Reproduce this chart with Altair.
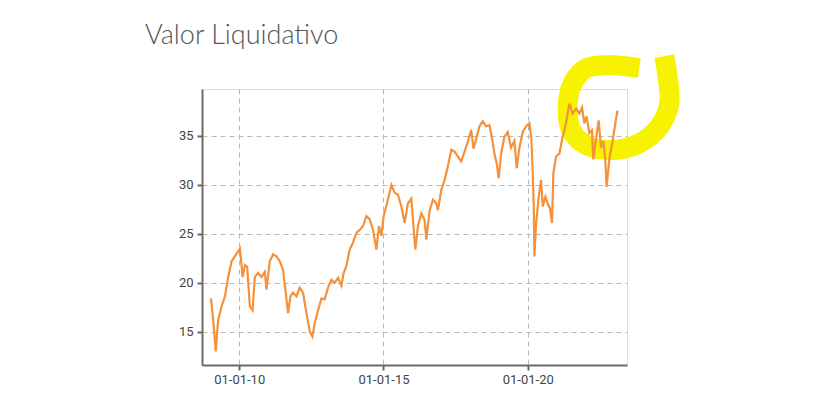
import altair as alt
import pandas as pd

# Net asset value series
dates = [
    "2009-01-08", "2009-02-06", "2009-03-10", "2009-04-09", "2009-05-23", "2009-07-04",
    "2009-08-15", "2009-09-27", "2009-11-07", "2010-01-10", "2010-02-13", "2010-03-14",
    "2010-04-12", "2010-05-16", "2010-06-19", "2010-07-18", "2010-08-28", "2010-10-10",
    "2010-11-21", "2010-12-12", "2011-01-23", "2011-03-06", "2011-04-18", "2011-05-30",
    "2011-07-10", "2011-08-13", "2011-09-11", "2011-10-11", "2011-11-13", "2011-12-26",
    "2012-02-06", "2012-03-19", "2012-05-01", "2012-06-12", "2012-07-16", "2012-08-14",
    "2012-09-25", "2012-11-07", "2012-12-18", "2013-01-29", "2013-03-13", "2013-04-24",
    "2013-06-05", "2013-07-17", "2013-08-15", "2013-09-18", "2013-10-30", "2013-12-11",
    "2014-01-23", "2014-03-06", "2014-04-17", "2014-05-30", "2014-07-10", "2014-08-21",
    "2014-10-03", "2014-11-04", "2014-12-05", "2015-01-03", "2015-02-14", "2015-04-11",
    "2015-05-22", "2015-07-03", "2015-08-15", "2015-09-26", "2015-11-06", "2015-12-19",
    "2016-02-08", "2016-03-12", "2016-04-24", "2016-06-05", "2016-06-26", "2016-08-07",
    "2016-09-18", "2016-10-31", "2016-11-20", "2017-01-02", "2017-02-13", "2017-03-26",
    "2017-05-08", "2017-06-19", "2017-07-30", "2017-09-11", "2017-10-23", "2017-12-03",
    "2018-01-15", "2018-02-13", "2018-03-19", "2018-04-30", "2018-06-10", "2018-07-23",
    "2018-09-03", "2018-10-07", "2018-11-05", "2018-12-04", "2018-12-29", "2019-01-29",
    "2019-03-11", "2019-04-22", "2019-06-04", "2019-07-16", "2019-08-14", "2019-09-17",
    "2019-10-29", "2019-12-11", "2020-01-22", "2020-02-16", "2020-03-04", "2020-03-17",
    "2020-03-25", "2020-04-16", "2020-05-19", "2020-06-18", "2020-07-08", "2020-08-11",
    "2020-09-09", "2020-10-09", "2020-11-03", "2020-11-20", "2020-12-24", "2021-02-04",
    "2021-03-17", "2021-04-29", "2021-06-10", "2021-07-22", "2021-09-03", "2021-10-15",
    "2021-11-18", "2021-12-17", "2022-01-15", "2022-02-18", "2022-03-24", "2022-04-10",
    "2022-05-14", "2022-06-16", "2022-07-16", "2022-08-14", "2022-09-08", "2022-09-25",
    "2022-10-29", "2022-12-10", "2023-01-13", "2023-02-11",
]
values = [
    18.4, 16.2, 13.0, 16.2, 17.6, 18.6,
    20.6, 22.2, 22.7, 23.5, 20.6, 21.8,
    21.6, 17.6, 17.2, 20.6, 21.0, 20.6,
    21.1, 19.3, 22.2, 22.9, 22.7, 22.2,
    21.3, 19.0, 16.9, 18.6, 19.0, 18.6,
    19.5, 19.0, 16.9, 15.0, 14.5, 15.9,
    17.2, 18.4, 18.3, 19.5, 20.3, 20.0,
    20.5, 19.7, 21.0, 21.7, 23.4, 24.1,
    25.1, 25.4, 25.8, 26.8, 26.5, 25.4,
    23.4, 25.8, 24.8, 26.8, 28.1, 30.0,
    29.2, 29.0, 27.8, 26.1, 28.1, 28.6,
    23.4, 25.8, 27.1, 26.4, 24.4, 27.4,
    28.5, 28.1, 27.4, 29.5, 30.5, 31.9,
    33.6, 33.4, 32.9, 32.4, 33.4, 34.4,
    35.6, 33.7, 34.7, 36.0, 36.5, 36.0,
    36.1, 34.7, 33.2, 32.2, 30.7, 33.2,
    34.9, 35.4, 33.8, 34.5, 31.7, 33.8,
    35.4, 36.0, 36.3, 34.7, 31.2, 27.8,
    22.7, 26.1, 28.8, 30.5, 27.8, 28.8,
    28.1, 27.6, 26.1, 31.2, 32.9, 33.2,
    34.9, 36.3, 38.3, 37.3, 37.8, 37.3,
    37.9, 36.3, 37.0, 35.3, 35.6, 32.6,
    34.7, 36.6, 33.8, 34.5, 32.6, 29.8,
    32.6, 34.5, 36.3, 37.6,
]

# Hand-drawn yellow highlight ring (in data units)
hl_dates = [
    "2023-11-13", "2022-09-18", "2022-01-08", "2021-07-23", "2021-05-21", "2021-07-03",
    "2022-01-08", "2022-12-10", "2023-11-13", "2024-07-23", "2024-11-26", "2024-11-04",
    "2024-09-24",
]
hl_values = [41.94, 42.24, 41.91, 40.38, 37.99, 35.61, 34.08, 33.57, 34.26, 35.95, 38.34, 41.05, 43.16]

y_ticks = [15, 20, 25, 30, 35]
x_ticks = ["2010-01-01", "2015-01-01", "2020-01-01"]
title_text = ["Valor Liquidativo"]

df = pd.DataFrame({"fecha": pd.to_datetime(dates), "valor": values})
hl = pd.DataFrame({"fecha": pd.to_datetime(hl_dates), "valor": hl_values, "i": range(len(hl_values))})
tt = pd.DataFrame({"t": title_text})

x_scale = alt.Scale(domain=[alt.DateTime(year=2008, month=9, date=17),
                            alt.DateTime(year=2023, month=6, date=10)], nice=False)
y_scale = alt.Scale(domain=[11.6, 39.8], nice=False, zero=False)

x_axis = alt.Axis(
    title=None, format="%d-%m-%y",
    values=[alt.DateTime(year=int(d[:4]), month=1, date=1) for d in x_ticks],
    labelFont="Roboto", labelFontSize=13, labelColor="#444", labelPadding=3,
    tickSize=5, tickColor="#666", tickWidth=2,
    domainColor="#6a6a6a", domainWidth=2,
    grid=True, gridDash=[5, 4], gridColor="#b0b8c8", gridWidth=1,
)
y_axis = alt.Axis(
    title=None, values=y_ticks,
    labelFont="Roboto", labelFontSize=13, labelColor="#444", labelPadding=4,
    tickSize=5, tickColor="#666", tickWidth=2,
    domainColor="#6a6a6a", domainWidth=2,
    grid=True, gridDash=[5, 4], gridColor="#b8b8b8", gridWidth=1,
)

highlight = alt.Chart(hl).mark_line(
    color="#f6f200", strokeWidth=20, clip=False, strokeCap="butt",
    strokeJoin="round", interpolate="catmull-rom"
).encode(
    x=alt.X("fecha:T", scale=x_scale, axis=x_axis),
    y=alt.Y("valor:Q", scale=y_scale, axis=y_axis),
    order="i:Q",
)

line = alt.Chart(df).mark_line(color="#f5913a", strokeWidth=2.2).encode(
    x=alt.X("fecha:T", scale=x_scale, axis=x_axis),
    y=alt.Y("valor:Q", scale=y_scale, axis=y_axis),
)

title = alt.Chart(tt).mark_text(
    align="left", baseline="alphabetic", font="Lato", fontWeight=300,
    fontSize=27, color="#555", clip=False,
).encode(
    text="t:N",
    x=alt.value(-57),
    y=alt.value(-45),
)

chart = alt.layer(highlight, line, title).properties(
    width=425, height=276,
    autosize=alt.AutoSizeParams(type="none"),
    padding={"left": 194, "top": 81, "right": 190, "bottom": 32},
).configure_view(stroke="#8a8a8a", strokeWidth=1.5).configure(background="white")

chart.save("out.html", embed_options={"renderer": "svg", "actions": False})
